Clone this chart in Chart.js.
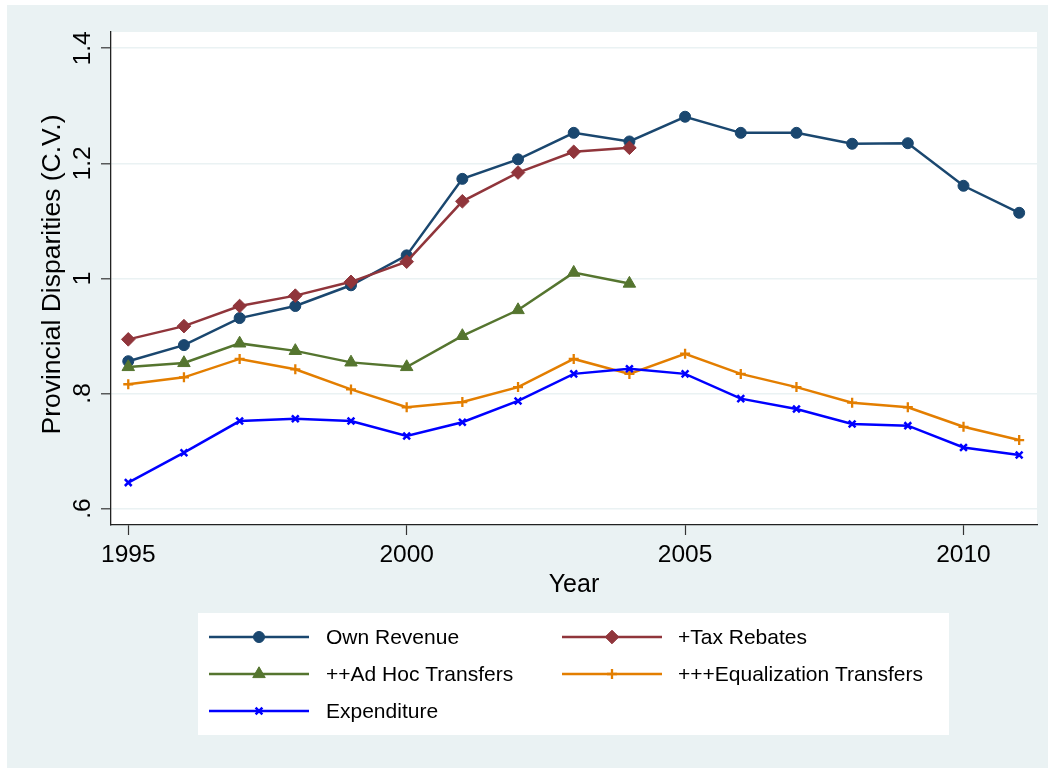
<!DOCTYPE html>
<html>
<head>
<meta charset="utf-8">
<script src="https://cdn.jsdelivr.net/npm/chart.js@4.4.1/dist/chart.umd.min.js"></script>
<style>
  html, body { margin: 0; padding: 0; background: #ffffff; }
  #wrap { position: relative; width: 1048px; height: 768px; }
  canvas { display: block; }
</style>
</head>
<body>
<div id="wrap"><canvas id="chart" width="1048" height="768"></canvas></div>
<script>
// Years on the horizontal axis
const years = [1995, 1996, 1997, 1998, 1999, 2000, 2001, 2002, 2003, 2004,
               2005, 2006, 2007, 2008, 2009, 2010, 2011];

// Coefficient of variation across provinces, by fiscal stage
const ownRevenue = [0.856, 0.884, 0.931, 0.952, 0.988, 1.040, 1.173, 1.207, 1.253, 1.238,
                    1.281, 1.253, 1.253, 1.234, 1.235, 1.161, 1.114];
const taxRebates = [0.894, 0.917, 0.952, 0.970, 0.994, 1.029, 1.134, 1.184, 1.220, 1.227];
const adHocTransfers = [0.846, 0.853, 0.887, 0.874, 0.854, 0.846, 0.900, 0.945, 1.010, 0.991];
const equalizationTransfers = [0.816, 0.828, 0.860, 0.842, 0.807, 0.776, 0.785, 0.811, 0.860, 0.834,
                               0.869, 0.834, 0.811, 0.784, 0.776, 0.742, 0.719];
const expenditure = [0.645, 0.697, 0.752, 0.756, 0.752, 0.726, 0.750, 0.787, 0.834, 0.843,
                     0.834, 0.791, 0.773, 0.747, 0.744, 0.706, 0.693];

// Axis ticks and labels
const xTicks = [1995, 2000, 2005, 2010];
const yTicks = [0.6, 0.8, 1.0, 1.2, 1.4];
const yTickLabels = ['.6', '.8', '1', '1.2', '1.4'];
const xTitle = 'Year';
const yTitle = 'Provincial Disparities (C.V.)';

// Series names in legend order
const seriesNames = ['Own Revenue', '+Tax Rebates', '++Ad Hoc Transfers',
                     '+++Equalization Transfers', 'Expenditure'];

const FONT = '"Liberation Sans", Arial, Helvetica, sans-serif';
const BG = '#eaf2f3';

function toPoints(values) {
  return values.map((v, i) => ({ x: years[i], y: v }));
}

const styles = [
  { color: '#1a476f', pointStyle: 'circle',   radius: 5.5, borderWidth: 1 },
  { color: '#90353b', pointStyle: 'rectRot',  radius: 6.8, borderWidth: 1 },
  { color: '#55752f', pointStyle: 'triangle', radius: 7.2, borderWidth: 1 },
  { color: '#e37e00', pointStyle: 'cross',    radius: 5,   borderWidth: 2.3 },
  { color: '#0000ff', pointStyle: 'crossRot', radius: 4.8, borderWidth: 2.5 }
];
const seriesValues = [ownRevenue, taxRebates, adHocTransfers, equalizationTransfers, expenditure];

const datasets = seriesValues.map((vals, i) => ({
  label: seriesNames[i],
  data: toPoints(vals),
  borderColor: styles[i].color,
  backgroundColor: styles[i].color,
  borderWidth: 2.5,
  tension: 0,
  pointStyle: styles[i].pointStyle,
  pointRadius: styles[i].radius,
  pointBorderWidth: styles[i].borderWidth,
  pointBackgroundColor: styles[i].color,
  pointBorderColor: styles[i].color,
  order: seriesNames.length - i
}));

// Backgrounds: outer graph region and white plot region
const backgroundPlugin = {
  id: 'regions',
  beforeDraw(chart) {
    const { ctx, chartArea } = chart;
    ctx.save();
    ctx.fillStyle = '#ffffff';
    ctx.fillRect(0, 0, chart.width, chart.height);
    ctx.fillStyle = BG;
    ctx.fillRect(7, 5, chart.width - 7, chart.height - 5);
    ctx.fillStyle = '#ffffff';
    ctx.fillRect(chartArea.left, chartArea.top,
                 chartArea.right - chartArea.left, chartArea.bottom - chartArea.top);
    ctx.restore();
  }
};

// Tick labels, axis titles and the boxed legend
const annotatePlugin = {
  id: 'annotate',
  afterDraw(chart) {
    const { ctx, chartArea } = chart;
    const xs = chart.scales.x;
    const ys = chart.scales.y;
    ctx.save();
    ctx.fillStyle = '#000000';

    // x tick labels
    ctx.font = '24.5px ' + FONT;
    ctx.textAlign = 'center';
    ctx.textBaseline = 'alphabetic';
    xTicks.forEach(t => {
      ctx.fillText(String(t), xs.getPixelForValue(t), 562);
    });

    // y tick labels, rotated
    yTicks.forEach((t, i) => {
      ctx.save();
      ctx.translate(89.5, ys.getPixelForValue(t));
      ctx.rotate(-Math.PI / 2);
      ctx.textAlign = 'center';
      ctx.fillText(yTickLabels[i], 0, 0);
      ctx.restore();
    });

    // x title
    ctx.font = '25px ' + FONT;
    ctx.fillText(xTitle, (chartArea.left + chartArea.right) / 2, 592);

    // y title
    ctx.save();
    ctx.font = '26.5px ' + FONT;
    ctx.translate(59.5, (chartArea.top + chartArea.bottom) / 2 - 4);
    ctx.rotate(-Math.PI / 2);
    ctx.textAlign = 'center';
    ctx.fillText(yTitle, 0, 0);
    ctx.restore();

    // legend box
    ctx.fillStyle = '#ffffff';
    ctx.fillRect(198, 613, 751, 122);
    const rows = [637, 674, 711];
    const cols = [{ line: 209, text: 326 }, { line: 562, text: 678 }];
    ctx.font = '21px ' + FONT;
    ctx.textAlign = 'left';
    ctx.textBaseline = 'middle';
    seriesNames.forEach((name, i) => {
      const c = cols[i % 2];
      const y = rows[Math.floor(i / 2)];
      const st = styles[i];
      ctx.strokeStyle = st.color;
      ctx.lineWidth = 2.5;
      ctx.beginPath();
      ctx.moveTo(c.line, y);
      ctx.lineTo(c.line + 100, y);
      ctx.stroke();
      ctx.fillStyle = st.color;
      ctx.lineWidth = st.borderWidth;
      Chart.helpers.drawPoint(ctx, {
        pointStyle: st.pointStyle, radius: st.radius, rotation: 0, borderWidth: st.borderWidth
      }, c.line + 50, y);
      ctx.fillStyle = '#000000';
      ctx.fillText(name, c.text, y + 1);
    });
    ctx.restore();
  }
};

new Chart(document.getElementById('chart'), {
  type: 'line',
  data: { datasets },
  options: {
    responsive: false,
    devicePixelRatio: 1,
    animation: false,
    events: [],
    layout: { padding: { left: 101, top: 32, right: 11, bottom: 233 } },
    plugins: { legend: { display: false }, tooltip: { enabled: false } },
    scales: {
      x: {
        type: 'linear',
        min: 1994.69,
        max: 2011.32,
        afterBuildTicks(scale) { scale.ticks = xTicks.map(v => ({ value: v })); },
        afterFit(scale) { scale.height = 10; },
        ticks: { display: false },
        grid: {
          drawOnChartArea: false, drawTicks: true, tickLength: 10,
          tickColor: '#333333', tickWidth: 1.2
        },
        border: { display: true, color: '#222222', width: 1.3 }
      },
      y: {
        type: 'linear',
        min: 0.5713,
        max: 1.4283,
        afterBuildTicks(scale) { scale.ticks = yTicks.map(v => ({ value: v })); },
        afterFit(scale) { scale.width = 10; },
        ticks: { display: false },
        grid: {
          drawOnChartArea: true, color: BG, lineWidth: 1.6,
          drawTicks: true, tickLength: 10, tickColor: '#333333', tickWidth: 1.2
        },
        border: { display: true, color: '#222222', width: 1.3 }
      }
    }
  },
  plugins: [backgroundPlugin, annotatePlugin]
});
</script>
</body>
</html>
